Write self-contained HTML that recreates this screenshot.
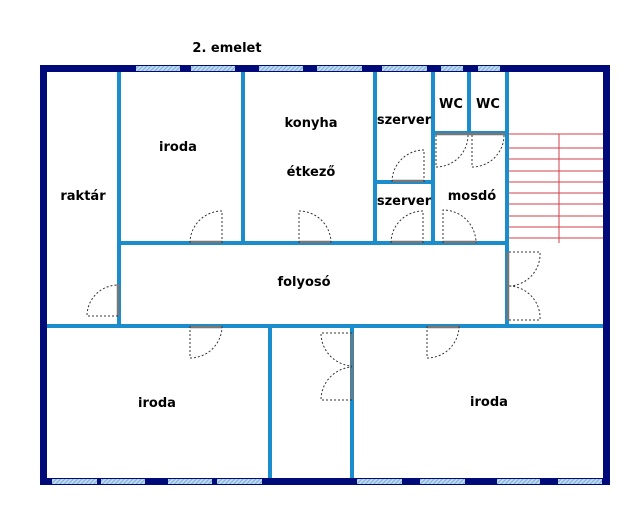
<!DOCTYPE html>
<html><head><meta charset="utf-8"><style>
html,body{margin:0;padding:0;background:#fff;width:640px;height:513px;overflow:hidden}
text{font-family:"DejaVu Sans","Liberation Sans",sans-serif;font-weight:bold;font-size:13px;fill:#000}
</style></head><body>
<svg width="640" height="513" viewBox="0 0 640 513" xmlns="http://www.w3.org/2000/svg">
<defs>
<pattern id="h" width="3" height="3" patternUnits="userSpaceOnUse" patternTransform="rotate(45)">
<rect width="3" height="3" fill="#c4dcf0"/><rect width="1.2" height="3" fill="#7fb0dc"/>
</pattern>
</defs>
<!-- stairs -->
<g stroke="#d0404a" stroke-width="1" fill="none">
<line x1="507" y1="134" x2="605" y2="134"/><line x1="507" y1="148" x2="605" y2="148"/>
<line x1="507" y1="159" x2="605" y2="159"/><line x1="507" y1="171" x2="605" y2="171"/>
<line x1="507" y1="182" x2="605" y2="182"/><line x1="507" y1="193" x2="605" y2="193"/>
<line x1="507" y1="204" x2="605" y2="204"/><line x1="507" y1="216" x2="605" y2="216"/>
<line x1="507" y1="227" x2="605" y2="227"/><line x1="507" y1="238" x2="605" y2="238"/>
<line x1="559" y1="134" x2="559" y2="243"/>
</g>
<!-- interior walls -->
<g stroke="#1b8ccc" stroke-width="4" fill="none">
<line x1="119" y1="70" x2="119" y2="328"/>
<line x1="243" y1="70" x2="243" y2="245"/>
<line x1="375" y1="70" x2="375" y2="245"/>
<line x1="433" y1="70" x2="433" y2="245"/>
<line x1="469" y1="70" x2="469" y2="135"/>
<line x1="507" y1="70" x2="507" y2="328"/>
<line x1="119" y1="243" x2="509" y2="243"/>
<line x1="433" y1="133" x2="507" y2="133"/>
<line x1="375" y1="182" x2="433" y2="182"/>
<line x1="44" y1="326" x2="607" y2="326"/>
<line x1="270" y1="326" x2="270" y2="480"/>
<line x1="352" y1="326" x2="352" y2="480"/>
</g>
<!-- outer walls -->
<g fill="#000a78">
<rect x="40" y="65" width="570" height="7"/>
<rect x="40" y="65" width="7" height="420"/>
<rect x="603" y="65" width="7" height="420"/>
<rect x="40" y="478" width="570" height="7"/>
</g>
<g fill="url(#h)">
<rect x="136" y="66" width="44" height="5"/><rect x="191" y="66" width="44" height="5"/>
<rect x="259" y="66" width="44" height="5"/><rect x="317" y="66" width="45" height="5"/>
<rect x="382" y="66" width="45" height="5"/><rect x="441" y="66" width="22" height="5"/>
<rect x="478" y="66" width="22" height="5"/>
<rect x="52" y="479" width="45" height="5"/><rect x="101" y="479" width="44" height="5"/>
<rect x="168" y="479" width="44" height="5"/><rect x="217" y="479" width="45" height="5"/>
<rect x="357" y="479" width="45" height="5"/><rect x="420" y="479" width="45" height="5"/>
<rect x="497" y="479" width="43" height="5"/><rect x="558" y="479" width="44" height="5"/>
</g>
<!-- doors: solid leaves -->
<g stroke="#777" stroke-width="2.5" fill="none">
<line x1="190" y1="242" x2="222" y2="242"/><line x1="299" y1="242" x2="331" y2="242"/>
<line x1="392" y1="181" x2="424" y2="181"/><line x1="391" y1="242" x2="423" y2="242"/>
<line x1="436" y1="134" x2="505" y2="134"/><line x1="443" y1="242" x2="477" y2="242"/>
<line x1="118" y1="284" x2="118" y2="316"/>
<line x1="508" y1="252" x2="508" y2="320"/>
<line x1="190" y1="327" x2="222" y2="327"/><line x1="427" y1="327" x2="460" y2="327"/>
<line x1="352" y1="333" x2="352" y2="400"/>
</g>
<!-- doors: dotted swings -->
<g stroke="#333" stroke-width="1" stroke-dasharray="2,2" fill="none">
<path d="M222 243 V211 A32 32 0 0 0 190 243"/>
<path d="M299 243 V211 A32 32 0 0 1 331 243"/>
<path d="M424 182 V150 A32 32 0 0 0 392 182"/>
<path d="M423 243 V211 A32 32 0 0 0 391 243"/>
<path d="M436 135 V167 A32 32 0 0 0 468 135"/>
<path d="M472 135 V167 A32 32 0 0 0 504 135"/>
<path d="M443 243 V210 A33 33 0 0 1 476 243"/>
<path d="M118 316 H87 A31 31 0 0 1 118 285"/>
<path d="M509 252 H540 A32 32 0 0 1 509 286"/>
<path d="M509 320 H540 A32 32 0 0 0 509 286"/>
<path d="M190 326 V358 A32 32 0 0 0 222 326"/>
<path d="M427 326 V358 A32 32 0 0 0 459 326"/>
<path d="M352 333 H321 A33 33 0 0 0 352 366"/>
<path d="M352 400 H321 A33 33 0 0 1 352 367"/>
</g>
<!-- labels -->
<text x="227" y="52" text-anchor="middle">2. emelet</text>
<text x="83" y="200" text-anchor="middle">raktár</text>
<text x="178" y="151" text-anchor="middle">iroda</text>
<text x="311" y="127" text-anchor="middle">konyha</text>
<text x="311" y="176" text-anchor="middle">étkező</text>
<text x="404" y="124" text-anchor="middle">szerver</text>
<text x="404" y="205" text-anchor="middle">szerver</text>
<text x="451" y="108" text-anchor="middle">WC</text>
<text x="488" y="108" text-anchor="middle">WC</text>
<text x="472" y="200" text-anchor="middle">mosdó</text>
<text x="304" y="286" text-anchor="middle">folyosó</text>
<text x="157" y="407" text-anchor="middle">iroda</text>
<text x="489" y="406" text-anchor="middle">iroda</text>
</svg>
</body></html>
